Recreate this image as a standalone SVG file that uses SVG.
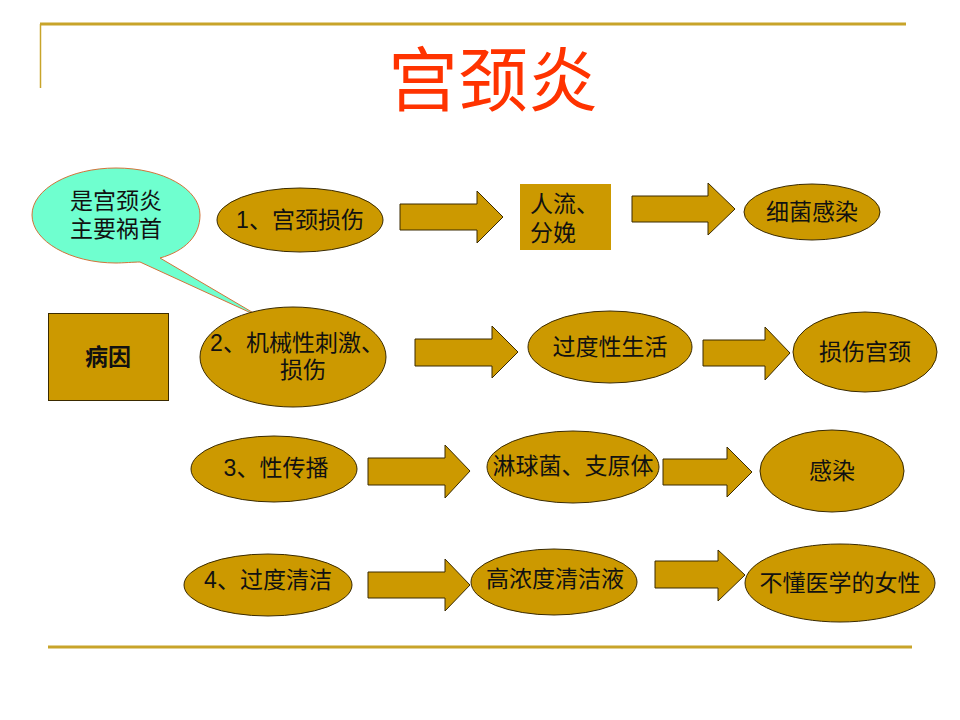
<svg xmlns="http://www.w3.org/2000/svg" width="960" height="720" viewBox="0 0 960 720">
<style>
.n{fill:#CC9900;stroke:#3a2a00;stroke-width:1}
.a{fill:#CC9900;stroke:#3a2a00;stroke-width:1}
.t{font-family:"Liberation Sans","Noto Sans CJK SC",sans-serif;font-size:23px;fill:#111;text-anchor:middle;dominant-baseline:central}
.rule{stroke:#C8A42A;stroke-width:3}
</style>
<rect width="960" height="720" fill="#fff"/>
<line class="rule" x1="40" y1="24" x2="906" y2="24"/>
<line x1="40.5" y1="24" x2="40.5" y2="88" stroke="#C8A42A" stroke-width="1.5"/>
<line class="rule" x1="48" y1="647" x2="912" y2="647"/>
<text x="493" y="75" font-family="'Noto Sans CJK SC',sans-serif" font-size="70" fill="#FF3300" text-anchor="middle" dominant-baseline="central">宫颈炎</text>

<g id="connectors">
<path class="a" d="M400,204H477V191L503,217L477,243V230H400Z"/>
<path class="a" d="M632,196H708V183L735,209L708,235V222H632Z"/>
<path class="a" d="M415,339H492V326L518,352L492,378V366H415Z"/>
<path class="a" d="M703,340H765V327L790,353L765,380V366H703Z"/>
<path class="a" d="M368,458H445V445L470,471L445,498V485H368Z"/>
<path class="a" d="M663,459H727V447L752,472L727,497V485H663Z"/>
<path class="a" d="M368,572H445V559L470,585L445,611V598H368Z"/>
<path class="a" d="M655,561H718V550L745,575L718,601V588H655Z"/>
</g>

<g id="callout">
<path d="M116,168C163,168 200,189 200,215C200,236 185,251 160,258L262,318L140,262C135,262 122,263 116,263C70,263 32,241 32,215C32,189 70,168 116,168Z" fill="#6FFFCF" stroke="#D2733A" stroke-width="1"/>
<text class="t" x="116" y="201">是宫颈炎</text>
<text class="t" x="116" y="229">主要祸首</text>
</g>

<g id="cause">
<rect class="n" x="48.5" y="313.5" width="120" height="87"/>
<text class="t" x="108" y="357" font-weight="bold" font-size="22">病因</text>
</g>

<g id="n1"><ellipse class="n" cx="300" cy="220" rx="83" ry="32"/><text class="t" x="300" y="220">1、宫颈损伤</text></g>
<g id="n1b"><rect x="520" y="184" width="91" height="66" fill="#CC9900"/><text class="t" x="530" y="204" style="text-anchor:start">人流、</text><text class="t" x="530" y="233" style="text-anchor:start">分娩</text></g>
<g id="n1c"><ellipse class="n" cx="812" cy="212" rx="68" ry="28"/><text class="t" x="812" y="212">细菌感染</text></g>

<g id="n2"><ellipse class="n" cx="293" cy="357" rx="93" ry="50"/><text class="t" x="297" y="343">2、机械性刺激、</text><text class="t" x="303" y="370">损伤</text></g>
<g id="n2b"><ellipse class="n" cx="610" cy="347" rx="82" ry="36"/><text class="t" x="610" y="347">过度性生活</text></g>
<g id="n2c"><ellipse class="n" cx="865" cy="352" rx="72" ry="40"/><text class="t" x="865" y="352">损伤宫颈</text></g>

<g id="n3"><ellipse class="n" cx="274" cy="469" rx="83" ry="33"/><text class="t" x="276" y="468">3、性传播</text></g>
<g id="n3b"><ellipse class="n" cx="573" cy="467" rx="86" ry="36"/><text class="t" x="573" y="466">淋球菌、支原体</text></g>
<g id="n3c"><ellipse class="n" cx="832" cy="471" rx="72" ry="41"/><text class="t" x="832" y="471">感染</text></g>

<g id="n4"><ellipse class="n" cx="268" cy="585" rx="84" ry="31"/><text class="t" x="268" y="580">4、过度清洁</text></g>
<g id="n4b"><ellipse class="n" cx="554" cy="582" rx="83" ry="33"/><text class="t" x="555" y="579">高浓度清洁液</text></g>
<g id="n4c"><ellipse class="n" cx="840" cy="583" rx="95" ry="39"/><text class="t" x="840" y="583">不懂医学的女性</text></g>
</svg>
